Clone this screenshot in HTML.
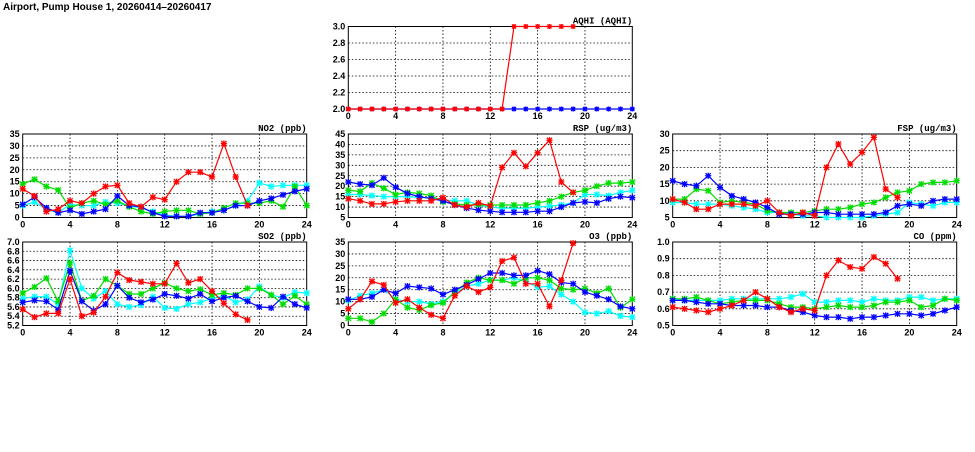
<!DOCTYPE html>
<html><head><meta charset="utf-8"><style>
body{margin:0;background:#fff;width:975px;height:447px;overflow:hidden}
svg text{font-family:"Liberation Sans",sans-serif;font-weight:bold;font-size:9px}
</style></head><body>
<svg id="c" width="975" height="447">
<text x="3" y="10" style="font-size:10px">Airport, Pump House 1, 20260414–20260417</text>
</svg>
<script>
const N=null;
const hours=[0,1,2,3,4,5,6,7,8,9,10,11,12,13,14,15,16,17,18,19,20,21,22,23,24];
const xTicks=[0,4,8,12,16,20,24];
const colors=['#00ffff','#00dd00','#0000ff','#ff0000'];
const seriesNames=['cyan','green','blue','red'];

const aqhiTicks=['2.0','2.2','2.4','2.6','2.8','3.0'];
const aqhiBlue=[2,2,2,2,2,2,2,2,2,2,2,2,2,2,2,2,2,2,2,2,2,2,2,2,2];
const aqhiRed=[2,2,2,2,2,2,2,2,2,2,2,2,2,2,3,3,3,3,3,3,N,N,N,N,N];

const no2Ticks=['0','5','10','15','20','25','30','35'];
const no2Red=[12,9,2.5,3.5,7,6,10,13,13.5,6,4.5,8.5,7.5,15,19,19,17,31,17,5,N,N,N,N,N];
const no2Green=[14,16,13,11.5,4,6,7,5.5,7,4.5,2.5,1.5,2.5,3,3,1.5,2,4,6,6,6,7,4.5,13,5];
const no2Cyan=[5,6.5,3.5,2,5.5,5,5,6.5,6,5,4,2.5,1,0.5,0.5,1.5,2.5,3,5,7,14.5,13,13.5,13.5,13.5];
const no2Blue=[5.5,8.5,4,2,3,1.5,2.5,3.5,9,5,4.5,2,0.5,0.5,0.5,2,2,3,5,5,7,8,9.5,11,12];

const rspTicks=['5','10','15','20','25','30','35','40','45'];
const rspRed=[14,13,11.5,11.5,12.5,13,13,13,14.5,11,10,12,10.5,29,36,29.5,36,42,22,17,N,N,N,N,N];
const rspGreen=[18,17.5,21.5,19,16,17,16.5,15.5,12.5,11.5,11,11,11,11,11,11,12,13,15,17,18,20,21.5,21.5,22];
const rspCyan=[16,16,15.5,15,15,15,14.5,14.5,13.5,13,13,11,10,9.5,9.5,9.5,10,10.5,11,12,16,16,15.5,17,18];
const rspBlue=[22,21,20.5,24,19.5,16.5,15,14,13,11,9.5,8.5,8,7.5,7.5,7.5,8,8,10,12,12.5,12,14,15,14.5];

const fspTicks=['5','10','15','20','25','30'];
const fspRed=[10.5,9.5,7.5,7.5,9,9,9,8.5,10,6.5,5.5,6.5,5.5,20,27,21,24.5,29,13.5,11,N,N,N,N,N];
const fspGreen=[10.5,10.5,13.5,13,9.5,10,9.5,9,7,6.5,6.5,6.5,7,7.5,7.5,8,9,9.5,11,12.5,13,15,15.5,15.5,16];
const fspCyan=[9.5,9.5,9,9,9,8.5,8,7.5,6.5,6.5,6,5.5,5.5,5,5,5,5,5.5,6,6.5,9.5,9,8.5,9.5,9.5];
const fspBlue=[16,15,14.5,17.5,14,11.5,10.5,9.5,8,6,6,6,6.5,6.5,6,6,6,6,6.5,8.5,9,8.5,10,10.5,10.5];

const so2Ticks=['5.2','5.4','5.6','5.8','6.0','6.2','6.4','6.6','6.8','7.0'];
const so2Red=[5.55,5.38,5.46,5.46,6.2,5.4,5.48,5.82,6.34,6.18,6.14,6.1,6.1,6.54,6.12,6.2,5.94,5.68,5.44,5.32,N,N,N,N,N];
const so2Green=[5.9,6.03,6.22,5.72,6.55,5.73,5.84,6.2,6.06,5.88,5.88,6.0,6.12,6.0,5.94,5.98,5.86,5.9,5.86,6.0,6.0,5.86,5.66,5.84,5.66];
const so2Cyan=[5.78,5.82,5.82,5.66,6.82,6.0,5.78,5.94,5.66,5.6,5.64,5.82,5.58,5.56,5.66,5.7,5.78,5.84,5.7,5.76,6.04,5.86,5.8,5.92,5.9];
const so2Blue=[5.7,5.74,5.72,5.54,6.38,5.72,5.52,5.66,6.06,5.8,5.7,5.76,5.88,5.84,5.78,5.88,5.72,5.8,5.84,5.72,5.6,5.58,5.82,5.66,5.58];

const o3Ticks=['0','5','10','15','20','25','30','35'];
const o3Red=[7,11,18.5,17,9.5,11,7.5,4.5,3,12.5,16.5,14,16,27,28.5,17.5,17.5,8,19,34.5,N,N,N,N,N];
const o3Green=[3,3,1.5,5,11,7.5,6.5,8.5,9.5,14,18,20,19,19,17.5,20,20,19,15.5,15,15.5,13.5,15.5,7.5,11];
const o3Cyan=[10.5,12.5,13.5,15,11,10,10,9,10,13.5,16.5,17.5,19,19,20,18.5,16,16.5,13,10,5.5,5,6,4,3.5];
const o3Blue=[11,11,12,15,13.5,16.5,16,15.5,13,15,17,19.5,22,22,21,21,23,21.5,18,17.5,14,12.5,11,8,7];

const coTicks=['0.5','0.6','0.7','0.8','0.9','1.0'];
const coRed=[.61,.60,.59,.58,.60,.62,.65,.70,.66,.61,.58,.60,.59,.80,.89,.85,.84,.91,.87,.78,N,N,N,N,N];
const coGreen=[.66,.66,.67,.65,.63,.64,.65,.65,.65,.63,.61,.61,.60,.61,.62,.61,.61,.62,.64,.64,.65,.61,.62,.66,.65];
const coCyan=[.66,.65,.65,.65,.65,.66,.66,.66,.66,.66,.67,.69,.64,.64,.65,.65,.64,.66,.65,.65,.67,.67,.65,.66,.66];
const coBlue=[.65,.65,.64,.63,.63,.62,.62,.62,.61,.61,.59,.58,.56,.55,.55,.54,.55,.55,.56,.57,.57,.56,.57,.59,.61];

const NS='http://www.w3.org/2000/svg';
const svg=document.getElementById('c');
function mk(tag,attrs,parent){const e=document.createElementNS(NS,tag);for(const k in attrs)e.setAttribute(k,attrs[k]);(parent||svg).appendChild(e);return e;}

function panel(id,title,left,top,bottom,ticks,series,ms){
  const W=284, g=mk('g',{});
  
  
  const ymin=parseFloat(ticks[0]), ymax=parseFloat(ticks[ticks.length-1]);
  const sx=h=>left+h/24*W;
  const sy=v=>bottom-(v-ymin)/(ymax-ymin)*(bottom-top);
  ticks.forEach(t=>{const y=sy(parseFloat(t));
    if(y>top+0.5&&y<bottom-0.5)mk('line',{x1:left,x2:left+W,y1:y,y2:y,stroke:'#000','stroke-width':0.8,'stroke-dasharray':'1.5,2'},g);
    const tx=mk('text',{x:left-3,y:y+3,'text-anchor':'end'},g);tx.textContent=t;
    
    
  });
  xTicks.forEach(h=>{const x=sx(h);
    if(h>0&&h<24)mk('line',{x1:x,x2:x,y1:top,y2:bottom,stroke:'#000','stroke-width':0.8,'stroke-dasharray':'1.5,2'},g);
    const tx=mk('text',{x:x,y:bottom+10,'text-anchor':'middle'},g);tx.textContent=h;
    
    
  });
  mk('rect',{x:left,y:top,width:W,height:bottom-top,fill:'none',stroke:'#000','stroke-width':1},g);
  const tt=mk('text',{x:left+W,y:top-3,'text-anchor':'end',style:"font-family:'Liberation Mono',monospace;font-size:9px;font-weight:bold"},g);tt.textContent=title;
  
  
  const s=ms||2.6;
  series.forEach(([vals,ci])=>{
    const col=colors[ci];let d='',pen=false;
    vals.forEach((v,i)=>{if(v===null){pen=false;return;}d+=(pen?'L':'M')+sx(hours[i]).toFixed(1)+','+sy(v).toFixed(1);pen=true;});
    const p=mk('path',{d:d,fill:'none',stroke:col,'stroke-width':1.2},g);
    
    
    vals.forEach((v,i)=>{if(v===null)return;const x=sx(hours[i]),y=sy(v);
      const m=mk('path',{d:`M${x-s},${y-s}L${x+s},${y+s}M${x-s},${y+s}L${x+s},${y-s}M${x},${y-s-0.5}L${x},${y+s+0.5}M${x-s-0.5},${y}L${x+s+0.5},${y}`,stroke:col,'stroke-width':1.3,fill:'none'},g);
      
      
    });
  });
}
const C=[22.7,348.3,672.7];
panel('aqhi','AQHI (AQHI)',C[1],26.5,109,aqhiTicks,[[aqhiBlue,2],[aqhiRed,3]],2);
panel('no2','NO2 (ppb)',C[0],134,217.5,no2Ticks,[[no2Cyan,0],[no2Green,1],[no2Blue,2],[no2Red,3]]);
panel('rsp','RSP (ug/m3)',C[1],134,217.5,rspTicks,[[rspCyan,0],[rspGreen,1],[rspBlue,2],[rspRed,3]]);
panel('fsp','FSP (ug/m3)',C[2],134,217.5,fspTicks,[[fspCyan,0],[fspGreen,1],[fspBlue,2],[fspRed,3]]);
panel('so2','SO2 (ppb)',C[0],242,325.5,so2Ticks,[[so2Cyan,0],[so2Green,1],[so2Blue,2],[so2Red,3]]);
panel('o3','O3 (ppb)',C[1],242,325.5,o3Ticks,[[o3Cyan,0],[o3Green,1],[o3Blue,2],[o3Red,3]]);
panel('co','CO (ppm)',C[2],242,325.5,coTicks,[[coCyan,0],[coGreen,1],[coBlue,2],[coRed,3]]);
</script>
</body></html>
